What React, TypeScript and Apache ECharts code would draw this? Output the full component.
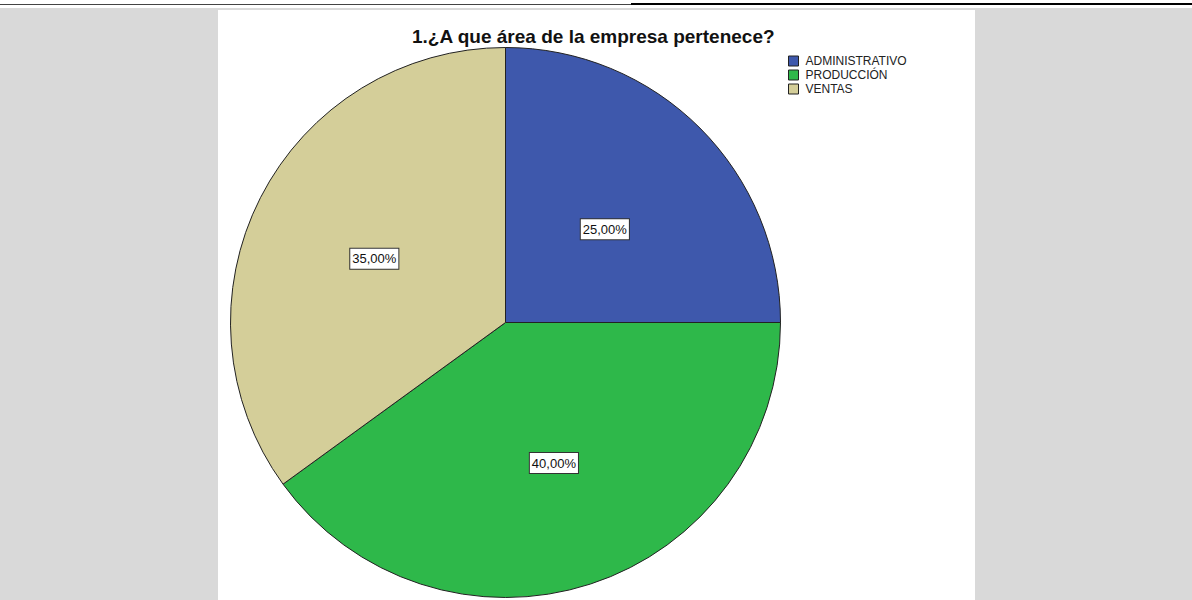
import React, { useEffect, useRef } from "react";
import * as echarts from "echarts";

const titleText = "1.¿A que área de la empresa pertenece?";
const categories = ["ADMINISTRATIVO", "PRODUCCIÓN", "VENTAS"];
const values = [25, 40, 35];
const colors = ["#3e58ac", "#2eb84a", "#d4ce99"];
const labelOffsets = [[0, 6], [5, 7], [-6, 0]];

const FONT = "'Liberation Sans', Arial, sans-serif";

export default function App() {
  const ref = useRef<HTMLDivElement>(null);
  useEffect(() => {
    if (!ref.current) return;
    const chart = echarts.init(ref.current, undefined, { renderer: "svg" });
    const data = categories.map((name, i) => ({
      name,
      value: values[i],
      itemStyle: { color: colors[i] },
      label: { offset: labelOffsets[i] },
    }));
    chart.setOption({
      animation: false,
      backgroundColor: "#ffffff",
      graphic: [
        { type: "rect", shape: { x: 0, y: 8, width: 1192, height: 592 }, style: { fill: "#d9d9d9" }, z: -10 },
        { type: "rect", shape: { x: 218, y: 10, width: 757, height: 590 }, style: { fill: "#ffffff" }, z: -9 },
        { type: "line", shape: { x1: 0, y1: 4.5, x2: 631, y2: 4.5 }, style: { stroke: "#444", lineWidth: 1 }, z: -8 },
        { type: "line", shape: { x1: 631, y1: 4, x2: 1192, y2: 4 }, style: { stroke: "#000", lineWidth: 2 }, z: -8 },
      ],
      title: {
        text: titleText,
        left: 412,
        top: 27,
        padding: 0,
        textStyle: { fontFamily: FONT, fontSize: 19, fontWeight: "bold", color: "#111" },
      },
      legend: {
        orient: "vertical",
        left: 788,
        top: 55,
        padding: 0,
        itemWidth: 10,
        itemHeight: 10,
        itemGap: 2,
        icon: "rect",
        selectedMode: false,
        data: categories,
        itemStyle: { borderColor: "#222", borderWidth: 1 },
        textStyle: { fontFamily: FONT, fontSize: 12, color: "#222", padding: [0, 0, 0, 2] },
      },
      series: [
        {
          type: "pie",
          center: [505.5, 322.5],
          radius: 275,
          startAngle: 90,
          clockwise: true,
          data,
          itemStyle: { borderColor: "#222", borderWidth: 1 },
          label: {
            show: true,
            position: "inside",
            formatter: (p: any) => p.value.toFixed(2).replace(".", ",") + "%",
            fontFamily: FONT,
            fontSize: 13,
            color: "#111",
            backgroundColor: "#ffffff",
            borderColor: "#333",
            borderWidth: 1,
            padding: [4, 2, 3, 2],
          },
          labelLine: { show: false },
          emphasis: { disabled: true },
        },
      ],
    });
    return () => chart.dispose();
  }, []);
  return (
    <div
      ref={ref}
      style={{ position: "absolute", left: 0, top: 0, width: 1192, height: 600 }}
    />
  );
}
